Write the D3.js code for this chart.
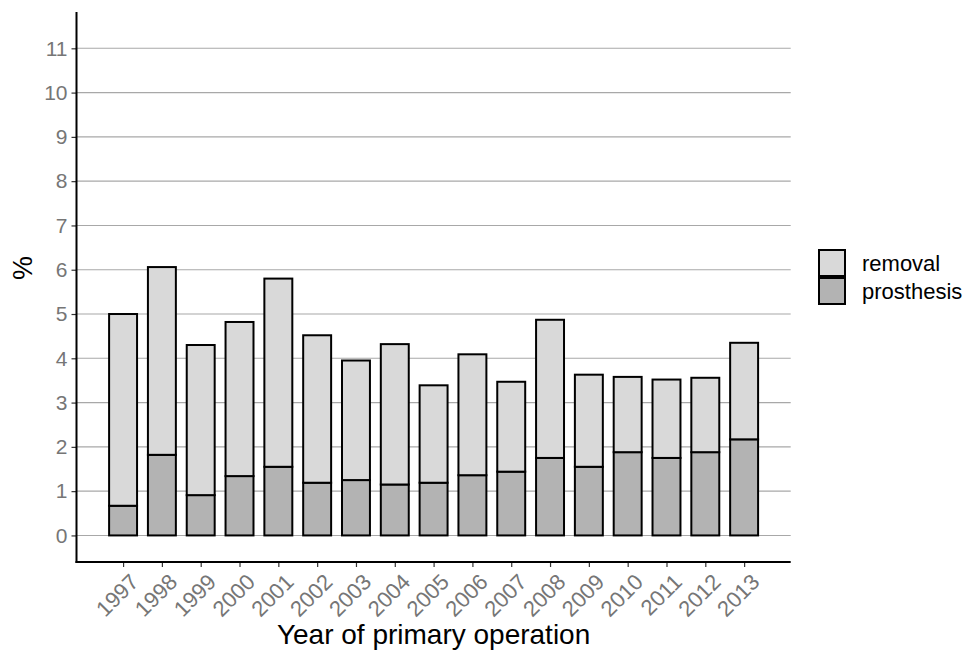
<!DOCTYPE html>
<html>
<head>
<meta charset="utf-8">
<script src="https://cdn.jsdelivr.net/npm/d3@7"></script>
<style>
  html, body { margin: 0; padding: 0; background: #fff; }
  svg { display: block; font-family: "Liberation Sans", Arial, Helvetica, sans-serif; }
</style>
</head>
<body>
<svg id="chart" width="966" height="653"></svg>
<script>
const years = ["1997","1998","1999","2000","2001","2002","2003","2004","2005","2006","2007","2008","2009","2010","2011","2012","2013"];
const prosthesis = [0.67,1.82,0.91,1.34,1.55,1.19,1.25,1.15,1.19,1.36,1.44,1.75,1.55,1.88,1.75,1.88,2.17];
const removal    = [4.33,4.24,3.39,3.48,4.25,3.33,2.70,3.17,2.20,2.73,2.03,3.12,2.08,1.70,1.77,1.68,2.18];
const yTicks = [0,1,2,3,4,5,6,7,8,9,10,11];
const seriesNames = ["prosthesis","removal"];
const legendOrder = ["removal","prosthesis"];
const colors = { removal: "#d9d9d9", prosthesis: "#b3b3b3" };

const svg = d3.select("#chart");
const pLeft = 76.5, pRight = 790.7, pTop = 12, pBottom = 562;
const tickColor = "#767676";

const x = d3.scalePoint().domain(years).range([pLeft, pRight]).padding(1.2);
const y = d3.scaleLinear().domain([-0.6, 11.82]).range([pBottom, pTop]);
const barW = x.step() * 0.72;

// grid
svg.append("g").selectAll("line").data(yTicks).join("line")
  .attr("x1", pLeft).attr("x2", pRight)
  .attr("y1", d => y(d)).attr("y2", d => y(d))
  .attr("stroke", "#a8a8a8").attr("stroke-width", 1.1);

// stacked bars
const table = years.map((yr, i) => ({ year: yr, prosthesis: prosthesis[i], removal: removal[i] }));
const stacked = d3.stack().keys(seriesNames)(table);
svg.append("g").selectAll("g").data(stacked).join("g")
  .attr("fill", d => colors[d.key])
  .selectAll("rect").data(d => d).join("rect")
  .attr("x", d => x(d.data.year) - barW / 2)
  .attr("width", barW)
  .attr("y", d => y(d[1]))
  .attr("height", d => y(d[0]) - y(d[1]))
  .attr("stroke", "#000").attr("stroke-width", 2);

// y axis
const yAxis = svg.append("g").attr("transform", `translate(${pLeft},0)`)
  .call(d3.axisLeft(y).tickValues(yTicks).tickSize(5).tickPadding(4).tickFormat(d3.format("d")));
yAxis.select(".domain").remove();
yAxis.selectAll(".tick line").attr("stroke", "#333").attr("stroke-width", 1.2);
yAxis.selectAll(".tick text").attr("fill", tickColor).attr("font-size", 21).attr("font-family", "Liberation Sans, Arial, sans-serif");
svg.append("line").attr("x1", pLeft).attr("x2", pLeft).attr("y1", pTop).attr("y2", pBottom + 1)
  .attr("stroke", "#000").attr("stroke-width", 2);

// x axis
const xAxis = svg.append("g").attr("transform", `translate(0,${pBottom})`)
  .call(d3.axisBottom(x).tickSize(5).tickSizeOuter(0));
xAxis.select(".domain").remove();
xAxis.selectAll(".tick line").attr("stroke", "#333").attr("stroke-width", 1.2);
xAxis.selectAll(".tick text")
  .attr("fill", tickColor).attr("font-size", 22).attr("font-family", "Liberation Sans, Arial, sans-serif")
  .attr("text-anchor", "end").attr("dy", null).attr("y", null)
  .attr("transform", "translate(5,10) rotate(-45)")
  .attr("dominant-baseline", "hanging");
svg.append("line").attr("x1", pLeft - 1).attr("x2", pRight).attr("y1", pBottom).attr("y2", pBottom)
  .attr("stroke", "#000").attr("stroke-width", 2);

// axis titles
svg.append("text").attr("x", (pLeft + pRight) / 2).attr("y", 644)
  .attr("text-anchor", "middle").attr("font-size", 28).attr("fill", "#000")
  .text("Year of primary operation");
svg.append("text").attr("transform", `translate(32,268) rotate(-90)`)
  .attr("text-anchor", "middle").attr("font-size", 27).attr("fill", "#000")
  .text("%");

// legend
const lg = svg.append("g").attr("transform", "translate(818,249)");
const keyH = 28;
lg.selectAll("rect").data(legendOrder).join("rect")
  .attr("x", 1).attr("y", (d, i) => i * keyH + 1)
  .attr("width", keyH - 2).attr("height", keyH - 2)
  .attr("fill", d => colors[d]).attr("stroke", "#000").attr("stroke-width", 2);
lg.selectAll("text").data(legendOrder).join("text")
  .attr("x", 44).attr("y", (d, i) => i * keyH + 21.5)
  .attr("font-size", 22).attr("fill", "#000")
  .text(d => d);
</script>
</body>
</html>
